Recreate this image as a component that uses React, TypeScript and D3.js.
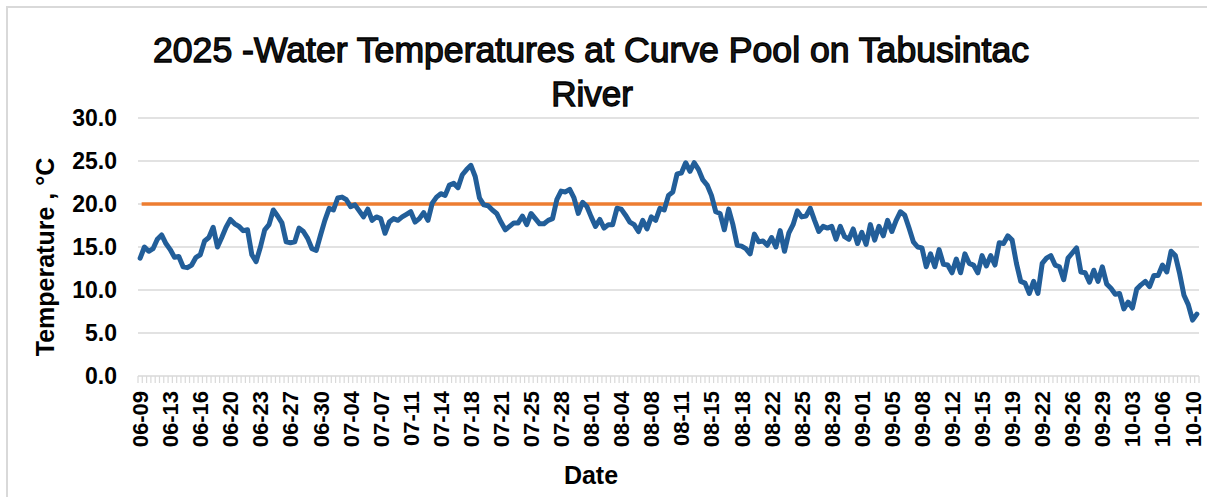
import React from 'react'
import * as d3 from 'd3'

// x axis labels, one every 7 readings (readings are twice a day)
const tickLabels = [
    '06-09', '06-13', '06-16', '06-20', '06-23', '06-27', '06-30',
    '07-04', '07-07', '07-11', '07-14', '07-18', '07-21', '07-25', '07-28',
    '08-01', '08-04', '08-08', '08-11', '08-15', '08-18', '08-22', '08-25', '08-29',
    '09-01', '09-05', '09-08', '09-12', '09-15', '09-19', '09-22', '09-26', '09-29',
    '10-03', '10-06', '10-10'
]

// water temperature, degC
const temps = [
    13.7, 15.0, 14.5, 14.8, 15.9, 16.4, 15.4, 14.7, 13.8, 13.9,
    12.7, 12.6, 12.9, 13.8, 14.1, 15.7, 16.1, 17.3, 15.0, 16.1,
    17.3, 18.2, 17.7, 17.4, 16.9, 17.0, 14.1, 13.3, 15.0, 17.0,
    17.6, 19.3, 18.6, 17.8, 15.6, 15.5, 15.6, 17.2, 16.8, 16.0,
    14.8, 14.6, 16.4, 18.1, 19.5, 19.3, 20.7, 20.8, 20.5, 19.7,
    19.9, 19.2, 18.5, 19.4, 18.1, 18.5, 18.3, 16.6, 17.9, 18.3,
    18.1, 18.5, 18.8, 19.1, 17.9, 18.3, 19.0, 18.1, 20.1, 20.8,
    21.2, 21.0, 22.2, 22.4, 21.9, 23.4, 24.0, 24.5, 23.2, 20.7,
    19.9, 19.8, 19.3, 18.9, 17.9, 17.0, 17.4, 17.8, 17.8, 18.6,
    17.6, 18.9, 18.3, 17.7, 17.7, 18.1, 18.3, 20.5, 21.5, 21.4,
    21.7, 20.7, 18.9, 20.2, 19.7, 18.5, 17.4, 18.2, 17.2, 17.6,
    17.6, 19.5, 19.4, 18.7, 17.9, 17.6, 16.8, 18.1, 17.1, 18.5,
    18.1, 19.5, 19.3, 21.0, 21.4, 23.5, 23.6, 24.8, 23.8, 24.8,
    24.0, 22.8, 22.2, 21.0, 19.1, 18.9, 17.0, 19.4, 17.6, 15.2,
    15.1, 14.8, 14.2, 16.5, 15.6, 15.7, 15.2, 16.1, 15.0, 16.9,
    14.5, 16.6, 17.6, 19.2, 18.5, 18.6, 19.5, 18.1, 16.8, 17.4,
    17.2, 17.4, 15.9, 17.4, 16.2, 15.9, 17.1, 15.4, 16.7, 15.3,
    17.6, 15.8, 17.4, 16.3, 18.1, 16.8, 18.1, 19.1, 18.7, 17.2,
    15.6, 15.0, 14.9, 12.7, 14.2, 12.7, 14.7, 13.0, 12.9, 12.0,
    13.6, 12.0, 14.2, 13.1, 12.9, 12.0, 14.0, 12.8, 14.0, 12.9,
    15.5, 15.4, 16.3, 15.8, 13.1, 11.0, 10.8, 9.6, 11.0, 9.6,
    13.1, 13.7, 14.0, 12.9, 12.7, 11.2, 13.7, 14.3, 14.9, 12.1,
    12.0, 10.9, 12.3, 11.0, 12.7, 10.7, 10.2, 9.5, 9.6, 7.8,
    8.6, 7.9, 10.1, 10.6, 11.0, 10.4, 11.7, 11.7, 12.9, 12.1,
    14.5, 14.0, 11.9, 9.4, 8.3, 6.5, 7.2
]

const threshold = 20
const yTicks = [0, 5, 10, 15, 20, 25, 30]
const labelEvery = 7

export default function App() {
    const width = 1207
    const height = 497
    const margin = { top: 118, right: 8, bottom: 121, left: 138 }

    const idx = temps.map((d, i) => i)

    // category scale, like excel's date-as-text axis
    const x = d3.scaleBand<number>()
        .domain(idx)
        .range([margin.left, width - margin.right])
        .padding(0)

    const y = d3.scaleLinear()
        .domain([0, 30])
        .range([height - margin.bottom, margin.top])

    const cx = (i: number) => (x(i) as number) + x.bandwidth() / 2

    const line = d3.line<number>()
        .x((d, i) => cx(i))
        .y(d => y(d))

    const x0 = margin.left
    const x1 = width - margin.right
    const font = '"Liberation Sans", Arial, sans-serif'

    // tick boundaries between categories
    const tickXs = idx.map(i => x(i) as number).concat([x1])

    return (
        <svg width={width} height={height}
            style={{ position: 'absolute', left: 0, top: 0, background: '#fff' }}>
            {/* chart frame */}
            <rect x={7} y={7} width={width + 20} height={height + 20}
                fill="none" stroke="#d9d9d9" strokeWidth={2} />

            {/* title */}
            <g fontFamily={font} fontSize={35} textAnchor="middle"
                fill="#1a1a1a" stroke="#000" strokeWidth={1.3}>
                <text x={591} y={62} textLength={876} lengthAdjust="spacingAndGlyphs">
                    2025 -Water Temperatures at Curve Pool on Tabusintac
                </text>
                <text x={592} y={106}>River</text>
            </g>

            {/* gridlines */}
            {yTicks.map(t => (
                <line key={t} x1={x0} x2={x1} y1={y(t)} y2={y(t)}
                    stroke="#d9d9d9" strokeWidth={1.5} />
            ))}

            {/* category ticks */}
            {tickXs.map((tx, i) => (
                <line key={i} x1={tx} x2={tx} y1={y(0)} y2={y(0) + 7}
                    stroke="#d9d9d9" strokeWidth={1.2} />
            ))}

            {/* y labels */}
            {yTicks.map(t => (
                <text key={t} x={117} y={y(t)} dy="0.36em" textAnchor="end"
                    fontFamily={font} fontWeight="bold" fontSize={23} fill="#000">
                    {t.toFixed(1)}
                </text>
            ))}

            {/* x labels */}
            {tickLabels.map((lab, k) => {
                const lx = cx(k * labelEvery)
                return (
                    <text key={lab} transform={`translate(${lx + 8}, ${y(0) + 15}) rotate(-90)`}
                        textAnchor="end" fontFamily={font} fontWeight="bold" fontSize={22} fill="#000">
                        {lab}
                    </text>
                )
            })}

            {/* axis titles */}
            <text x={591} y={484} textAnchor="middle" fontFamily={font}
                fontWeight="bold" fontSize={25} fill="#000">Date</text>
            <text transform={`translate(54, ${y(15) + 10}) rotate(-90)`} textAnchor="middle"
                fontFamily={font} fontWeight="bold" fontSize={25} fill="#000">
                Temperature , °C
            </text>

            {/* 20 degC threshold */}
            <line x1={cx(0) + 1.5} x2={cx(temps.length - 1) + 5} y1={y(threshold)} y2={y(threshold)}
                stroke="#ed7d31" strokeWidth={3.5} />

            {/* temperature series */}
            <path d={line(temps) as string} fill="none" stroke="#225e99"
                strokeWidth={5} strokeLinejoin="round" strokeLinecap="round" />
        </svg>
    )
}
